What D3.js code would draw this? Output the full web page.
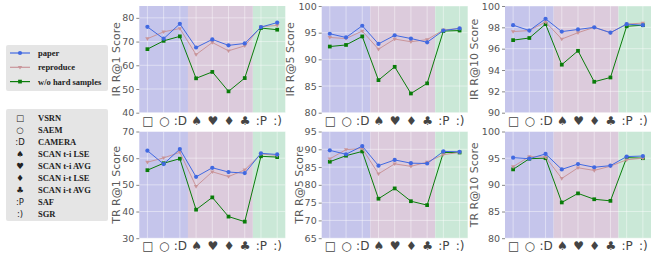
<!DOCTYPE html>
<html>
<head>
<meta charset="utf-8">
<script src="https://cdn.jsdelivr.net/npm/d3@7"></script>
<style>
	body { margin: 0; background: #fff; }
	svg { display: block; }
</style>
</head>
<body>
<div id="visHolder"></div>
<script>
// categories on the x axis (methods)
const categories = ["□", "○", ":D", "♠", "♥", "♦", "♣", ":P", ":)"];
const methodNames = ["VSRN", "SAEM", "CAMERA", "SCAN t-i LSE", "SCAN t-i AVG", "SCAN i-t LSE", "SCAN i-t AVG", "SAF", "SGR"];
const metrics = ["IR R@1", "IR R@5", "IR R@10", "TR R@1", "TR R@5", "TR R@10"];
const seriesNames = ["paper", "reproduce", "w/o hard samples"];

// one row per metric, one value per category
const paper = [
	[76.2, 71.2, 77.5, 67.5, 70.9, 68.4, 69.2, 76.1, 78.0],
	[94.8, 94.1, 96.3, 92.9, 94.5, 93.9, 93.2, 95.4, 95.8],
	[98.2, 97.7, 98.8, 97.6, 97.8, 98.0, 97.5, 98.3, 98.2],
	[62.8, 57.8, 63.4, 53.0, 56.4, 54.8, 54.4, 61.8, 61.4],
	[89.7, 88.6, 90.9, 85.4, 87.0, 86.1, 86.0, 89.4, 89.3],
	[95.1, 94.9, 95.8, 92.9, 93.9, 93.3, 93.6, 95.3, 95.4],
];
const reproduce = [
	[71.2, 74.1, 75.5, 64.5, 69.6, 66.1, 68.2, 76.3, 76.8],
	[94.1, 93.9, 95.3, 91.9, 93.8, 93.3, 93.7, 95.5, 95.8],
	[97.6, 97.7, 98.5, 96.9, 97.5, 98.0, 97.5, 98.3, 98.4],
	[58.5, 60.1, 62.2, 49.4, 54.9, 53.1, 55.6, 61.6, 61.0],
	[87.3, 89.9, 90.2, 83.1, 85.9, 85.2, 86.4, 88.5, 89.1],
	[93.4, 95.3, 95.2, 91.2, 93.2, 92.7, 93.5, 94.7, 95.0],
];
const withoutHard = [
	[66.8, 70.3, 72.2, 54.5, 57.2, 49.0, 54.6, 75.7, 75.0],
	[92.4, 92.7, 94.3, 86.1, 88.6, 83.6, 85.5, 95.3, 95.4],
	[96.8, 97.0, 98.3, 94.5, 95.8, 92.9, 93.3, 98.1, 98.2],
	[55.5, 58.1, 59.8, 40.7, 45.3, 38.1, 36.2, 60.7, 60.4],
	[86.5, 88.2, 89.4, 76.1, 79.0, 75.4, 74.3, 89.1, 89.1],
	[92.9, 94.9, 95.0, 86.7, 88.4, 87.3, 87.0, 95.1, 95.0],
];
const yDomains = [[40, 85], [80, 100], [90, 100], [30, 70], [65, 95], [80, 100]];
const yTicks = [
	[40, 50, 60, 70, 80],
	[80, 85, 90, 95, 100],
	[90, 92, 94, 96, 98, 100],
	[30, 40, 50, 60, 70],
	[65, 70, 75, 80, 85, 90, 95],
	[80, 85, 90, 95, 100],
];
// background bands, in category index units
const bands = [[-0.5, 2.5], [2.5, 6.5], [6.5, 8.5]];

const width = 664;
const height = 258;
const panelWidth = 146;
const panelHeight = 106.7;
const colLefts = [139.3, 321.7, 505];
const rowTops = [6, 131.5];

const seriesColors = ["#4169e1", "#c9959a", "#0a7d0a"];
const bandColors = ["#c5c5eb", "#dccbdc", "#cae8d7"];

const svg = d3
	.select("#visHolder")
	.append("svg")
	.attr("width", width)
	.attr("height", height)
	.style("font-family", "'DejaVu Sans', sans-serif");

const xScale = d3.scaleLinear().domain([-0.5, 8.5]).range([0, panelWidth]);

metrics.forEach((metric, m) => createPanel(metric, m));
createSeriesLegend();
createMethodLegend();

function createPanel(metric, m) {
	const col = m % 3;
	const row = Math.floor(m / 3);
	const g = svg
		.append("g")
		.attr("transform", `translate(${colLefts[col]}, ${rowTops[row]})`);

	const yScale = d3.scaleLinear().domain(yDomains[m]).range([panelHeight, 0]);

	g.selectAll("rect.band")
		.data(bands)
		.join("rect")
		.attr("class", "band")
		.attr("x", (d) => xScale(d[0]))
		.attr("width", (d) => xScale(d[1]) - xScale(d[0]))
		.attr("y", 0)
		.attr("height", panelHeight)
		.attr("fill", (d, i) => bandColors[i]);

	//grid
	g.selectAll("line.vgrid")
		.data(d3.range(categories.length))
		.join("line")
		.attr("class", "vgrid")
		.attr("x1", (d) => xScale(d))
		.attr("x2", (d) => xScale(d))
		.attr("y1", 0)
		.attr("y2", panelHeight)
		.attr("stroke", "#fff")
		.attr("stroke-opacity", 0.55)
		.attr("stroke-width", 0.8);
	g.selectAll("line.hgrid")
		.data(yTicks[m])
		.join("line")
		.attr("class", "hgrid")
		.attr("x1", 0)
		.attr("x2", panelWidth)
		.attr("y1", (d) => yScale(d))
		.attr("y2", (d) => yScale(d))
		.attr("stroke", "#fff")
		.attr("stroke-opacity", 0.55)
		.attr("stroke-width", 0.8);

	const yAxis = d3.axisLeft(yScale).tickValues(yTicks[m]).tickSize(3).tickPadding(2);
	const yAxisG = g.append("g").call(yAxis);
	yAxisG.select(".domain").remove();
	yAxisG.selectAll("line").attr("stroke", "#888");
	yAxisG.selectAll("text")
		.attr("fill", "#555")
		.style("font-size", "9.5px")
		.style("font-family", "'DejaVu Sans', sans-serif");

	const xAxis = d3
		.axisBottom(xScale)
		.tickValues(d3.range(categories.length))
		.tickFormat((i) => categories[i])
		.tickSize(0)
		.tickPadding(3.5);
	const xAxisG = g
		.append("g")
		.attr("transform", `translate(0, ${panelHeight})`)
		.call(xAxis);
	xAxisG.select(".domain").remove();
	xAxisG.selectAll("text")
		.attr("fill", "#444")
		.style("font-size", "12px")
		.style("font-family", "'DejaVu Sans', sans-serif");

	const labelOffset = yTicks[m][yTicks[m].length - 1] >= 100 ? 27.5 : 19;
	g.append("text")
		.attr("transform", `translate(${-labelOffset}, ${panelHeight / 2}) rotate(-90)`)
		.attr("text-anchor", "middle")
		.attr("fill", "#5a5a5a")
		.style("font-size", "11px")
		.text(`${metric} Score`);

	const allSeries = [paper[m], reproduce[m], withoutHard[m]];
	const line = d3
		.line()
		.x((d, i) => xScale(i))
		.y((d) => yScale(d));

	// draw in reverse so paper sits on top
	[2, 1, 0].forEach((s) => {
		const values = allSeries[s];
		g.append("path")
			.attr("d", line(values))
			.attr("fill", "none")
			.attr("stroke", seriesColors[s])
			.attr("stroke-width", 1);
		g.append("g")
			.selectAll("path")
			.data(values)
			.join("path")
			.attr("transform", (d, i) => `translate(${xScale(i)}, ${yScale(d)})`)
			.attr("d", markerPath(s))
			.attr("fill", seriesColors[s]);
	});
}

function markerPath(s) {
	if (s === 0) return d3.symbol(d3.symbolCircle, 14)();
	if (s === 1) return "M-2.2,-1.4L2.2,-1.4L0,2.2Z";
	return d3.symbol(d3.symbolSquare, 14)();
}

function createSeriesLegend() {
	const g = svg.append("g").attr("transform", "translate(6, 45)");
	g.append("rect")
		.attr("width", 102)
		.attr("height", 46)
		.attr("rx", 2)
		.attr("fill", "#e5e5e5");
	seriesNames.forEach((name, s) => {
		const y = 8 + s * 14.3;
		g.append("line")
			.attr("x1", 4)
			.attr("x2", 24)
			.attr("y1", y)
			.attr("y2", y)
			.attr("stroke", seriesColors[s])
			.attr("stroke-width", 1.2);
		g.append("path")
			.attr("transform", `translate(14, ${y})`)
			.attr("d", markerPath(s))
			.attr("fill", seriesColors[s]);
		g.append("text")
			.attr("x", 32)
			.attr("y", y + 3)
			.attr("fill", "#222")
			.style("font-family", "'Liberation Serif', serif")
			.style("font-weight", "bold")
			.style("font-size", "8.5px")
			.text(name);
	});
}

function createMethodLegend() {
	const g = svg.append("g").attr("transform", "translate(6, 109)");
	g.append("rect")
		.attr("width", 102)
		.attr("height", 112)
		.attr("rx", 2)
		.attr("fill", "#e5e5e5");
	methodNames.forEach((name, i) => {
		const y = 8.5 + i * 12;
		g.append("text")
			.attr("x", 14)
			.attr("y", y + 3)
			.attr("text-anchor", "middle")
			.attr("fill", "#222")
			.style("font-size", "8.5px")
			.text(categories[i]);
		g.append("text")
			.attr("x", 32)
			.attr("y", y + 3)
			.attr("fill", "#222")
			.style("font-family", "'Liberation Serif', serif")
			.style("font-weight", "bold")
			.style("font-size", "8.5px")
			.text(name);
	});
}
</script>
</body>
</html>
